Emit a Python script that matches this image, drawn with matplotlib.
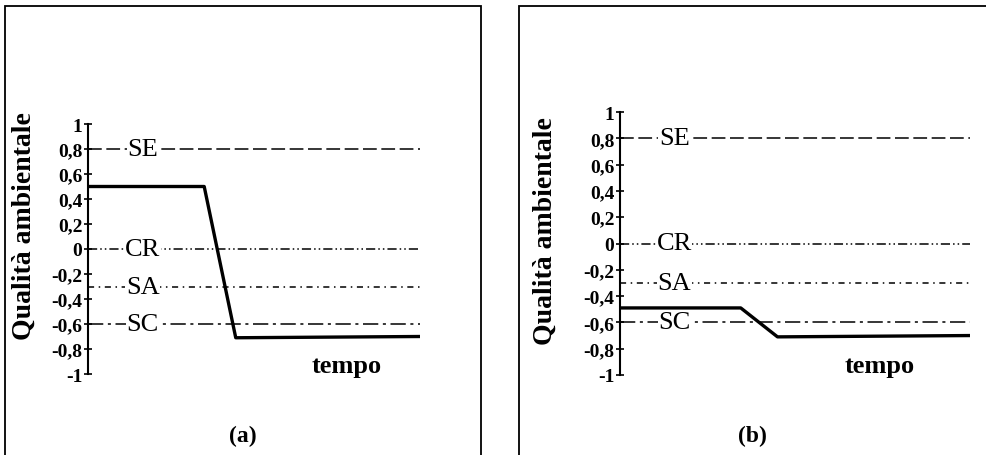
import matplotlib.pyplot as plt
from matplotlib.patches import Rectangle

plt.rcParams['font.family'] = ['Liberation Serif', 'DejaVu Serif']

# time axis (arbitrary units) and quality of the two scenarios
tempo_a = [0, 3.5, 4.45, 10]
qualita_a = [0.5, 0.5, -0.71, -0.70]
tempo_b = [0, 3.45, 4.5, 10]
qualita_b = [-0.49, -0.49, -0.71, -0.70]

# threshold levels
soglie = ['SE', 'CR', 'SA', 'SC']
livelli = [0.8, 0.0, -0.3, -0.6]
stili = [(0, (9, 3)), (0, (6, 2, 1, 2, 1, 2)), (0, (4, 3, 1, 3)), (0, (10, 3, 2, 3))]

yticks = [1, 0.8, 0.6, 0.4, 0.2, 0, -0.2, -0.4, -0.6, -0.8, -1]
ylabels = ['1', '0,8', '0,6', '0,4', '0,2', '0', '-0,2', '-0,4', '-0,6', '-0,8', '-1']

fig = plt.figure(figsize=(9.87, 4.56), dpi=100)

# frames around each panel
fig.add_artist(Rectangle((5 / 987, -0.01), 476 / 987, (456 - 7) / 456 + 0.01,
                         transform=fig.transFigure, fill=False, lw=1.3, ec='black'))
fig.add_artist(Rectangle((519 / 987, -0.01), 470 / 987, (456 - 7) / 456 + 0.01,
                         transform=fig.transFigure, fill=False, lw=1.3, ec='black'))


def pannello(rect, t, q, xlab, ylab_pos, tempo_pos, lettera_pos, lettera):
    ax = fig.add_axes(rect)
    for (nome, liv, ls) in zip(soglie, livelli, stili):
        ax.plot([0, 10], [liv, liv], color='black', lw=1.1, linestyle=ls)
        ax.text(xlab, liv, nome, fontsize=19, ha='center', va='center',
                bbox=dict(facecolor='white', edgecolor='none', pad=0.3))
    ax.plot(t, q, color='black', lw=2.4)
    ax.set_xlim(0, 10)
    ax.set_ylim(-1, 1)
    for s in ['top', 'right', 'bottom']:
        ax.spines[s].set_visible(False)
    ax.spines['left'].set_linewidth(1.5)
    ax.set_xticks([])
    ax.set_yticks(yticks)
    ax.set_yticklabels(ylabels, fontsize=14, fontweight='bold')
    ax.tick_params(axis='y', direction='inout', length=6, width=1.2, pad=1)
    ax.set_ylabel('Qualità ambientale', fontsize=20, fontweight='bold')
    ax.yaxis.set_label_coords(*ylab_pos)
    fig.text(tempo_pos[0], tempo_pos[1], 'tempo', fontsize=19, fontweight='bold',
             ha='center', va='center')
    fig.text(lettera_pos[0], lettera_pos[1], lettera, fontsize=17, fontweight='bold',
             ha='center', va='center')
    return ax


pannello([88 / 987, 81 / 456, 332 / 987, 250 / 456], tempo_a, qualita_a, 1.65,
         (-0.153, 0.596), (347 / 987, 1 - 366 / 456), (243 / 987, 1 - 436 / 456), '(a)')
pannello([620 / 987, 80 / 456, 350 / 987, 263 / 456], tempo_b, qualita_b, 1.55,
         (-0.178, 0.55), (880 / 987, 1 - 366 / 456), (752 / 987, 1 - 436 / 456), '(b)')

fig.savefig('out.png', dpi=100)
